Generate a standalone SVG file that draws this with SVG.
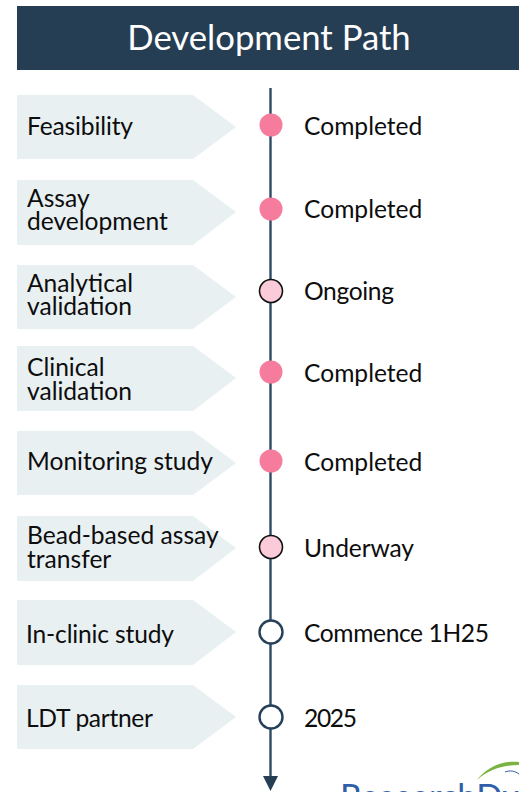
<svg xmlns="http://www.w3.org/2000/svg" width="519" height="792" viewBox="0 0 519 792">
<style>
text{font-family:Lato,"Liberation Sans",sans-serif;fill:#0d0d0d;font-size:24.600px}
.t{font-size:34.700px;fill:#fff}
.c{fill:#e9f0f2}
.done{fill:#f57c9c}
.on{fill:#fbcbd9;stroke:#111;stroke-width:1.6}
.fut{fill:#fff;stroke:#26405a;stroke-width:2.4}
.ln{stroke:#2f4a63;stroke-width:2.400;fill:none}
</style>
<g id="header"><rect x="17" y="6" width="502" height="64" fill="#263e53"/><text class="t" x="269" y="50" text-anchor="middle">Development Path</text></g>
<g id="connectors"><path class="ln" d="M270.500 88V778"/><path d="M263 776H278L270.500 791Z" fill="#263e53"/></g>
<g id="n1"><path class="c" d="M17 95H193L236 127L193 159H17Z"/><text x="27" y="134.500" textLength="106">Feasibility</text><circle class="done" cx="271" cy="125" r="11.500"/><text x="304" y="134.500">Completed</text></g>
<g id="n2"><path class="c" d="M17 180H193L236 212L193 245H17Z"/><text><tspan x="27" y="206.500">Assay</tspan><tspan x="27" y="229.500">development</tspan></text><circle class="done" cx="271" cy="209" r="11.500"/><text x="304" y="217.500">Completed</text></g>
<g id="n3"><path class="c" d="M17 265H193L236 297L193 329H17Z"/><text><tspan x="27" y="291.500">Analytical</tspan><tspan x="27" y="314.500">validation</tspan></text><circle class="on" cx="271" cy="291" r="11.500"/><text x="304" y="299.500" textLength="90">Ongoing</text></g>
<g id="n4"><path class="c" d="M17 346H193L236 378L193 411H17Z"/><text><tspan x="27" y="375.500">Clinical</tspan><tspan x="27" y="399.500">validation</tspan></text><circle class="done" cx="271" cy="372" r="11.500"/><text x="304" y="381.500">Completed</text></g>
<g id="n5"><path class="c" d="M17 431H193L236 463L193 495H17Z"/><text x="27" y="469.500">Monitoring study</text><circle class="done" cx="271" cy="461" r="11.500"/><text x="304" y="470.500">Completed</text></g>
<g id="n6"><path class="c" d="M17 516H193L236 548L193 581H17Z"/><text><tspan x="27" y="543.500">Bead-based assay</tspan><tspan x="27" y="567.500">transfer</tspan></text><circle class="on" cx="271" cy="547" r="11.500"/><text x="304" y="556.500" textLength="110">Underway</text></g>
<g id="n7"><path class="c" d="M17 600H193L236 632L193 665H17Z"/><text x="26" y="642.500" textLength="148">In-clinic study</text><circle class="fut" cx="271" cy="632" r="11.500"/><text x="304" y="641.500" textLength="185">Commence 1H25</text></g>
<g id="n8"><path class="c" d="M17 685H193L236 717L193 749H17Z"/><text x="26" y="726.500" textLength="127">LDT partner</text><circle class="fut" cx="271" cy="717" r="11.500"/><text x="304" y="726.500" textLength="53">2025</text></g>
<g id="logo"><text x="340" y="809" style="font-size:34.500px;fill:#2f5fa8">ResearchDx</text><path d="M477 780C486 768 502 760 519 762V765C502 765 488 770 477 780Z" fill="#7ab342"/><path d="M505 772C510 770 515 771 519 774" fill="none" stroke="#2f5fa8" stroke-width="1"/></g>
</svg>
